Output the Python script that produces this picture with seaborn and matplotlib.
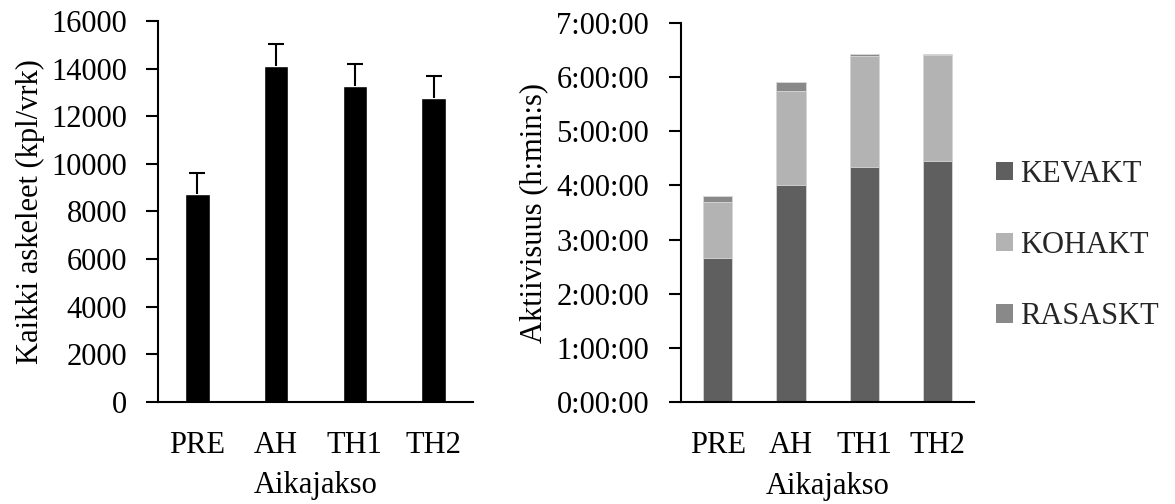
import matplotlib
matplotlib.use("Agg")
import matplotlib.pyplot as plt
from matplotlib.patches import Patch
from matplotlib.ticker import FuncFormatter, MultipleLocator
import seaborn as sns
import pandas as pd

# Measurement periods
periods = ["PRE", "AH", "TH1", "TH2"]

# Daily steps (mean) and upper error (SD)
steps_mean = [8720, 14120, 13280, 12750]
steps_err = [910, 925, 925, 940]

# Activity time per intensity class, hours
kevakt_h = [2.67, 4.01, 4.34, 4.45]
kohakt_h = [1.03, 1.73, 2.05, 1.96]
rasaskt_h = [0.105, 0.17, 0.025, 0.015]

series_names = ["KEVAKT", "KOHAKT", "RASASKT"]
series_colors = ["#5f5f5f", "#b3b3b3", "#898989"]

sns.set_theme(style="white")
plt.rcParams["font.family"] = ["Liberation Serif", "DejaVu Serif"]
FS = 22

fig = plt.figure(figsize=(11.75, 5.04), dpi=100)
ax1 = fig.add_axes([0.1345, 0.2024, 0.268, 0.756])
ax2 = fig.add_axes([0.5796, 0.2018, 0.2494, 0.753])

# --- Left: daily steps with upper error bars ---
df_steps = pd.DataFrame({"period": periods, "steps": steps_mean, "err": steps_err})
sns.barplot(data=df_steps, x="period", y="steps", color="black", width=0.31,
            saturation=1, ax=ax1)
eb = ax1.errorbar(range(len(periods)), df_steps["steps"],
                  yerr=[[0] * len(periods), df_steps["err"]],
                  fmt="none", ecolor="black", elinewidth=1.5, capsize=6, capthick=1.5)
# keep only the upper caps
eb[1][0].set_visible(False)
ax1.set_ylim(0, 16000)
ax1.set_xlim(-0.5, 3.5)
ax1.yaxis.set_major_locator(MultipleLocator(2000))
ax1.set_ylabel("Kaikki askeleet (kpl/vrk)", fontsize=FS, labelpad=5)
ax1.set_xlabel("Aikajakso", fontsize=FS, labelpad=8)

# --- Right: stacked activity time ---
df_act = pd.DataFrame({"period": periods, "KEVAKT": kevakt_h,
                       "KOHAKT": kohakt_h, "RASASKT": rasaskt_h})
df_act["cum2"] = df_act["KEVAKT"] + df_act["KOHAKT"]
df_act["cum3"] = df_act["cum2"] + df_act["RASASKT"]
for col, color in [("cum3", series_colors[2]), ("cum2", series_colors[1]),
                   ("KEVAKT", series_colors[0])]:
    sns.barplot(data=df_act, x="period", y=col, color=color, width=0.4,
                saturation=1, edgecolor="#d9d9d9", linewidth=0.6, ax=ax2)
ax2.set_ylim(0, 7)
ax2.set_xlim(-0.5, 3.5)
ax2.yaxis.set_major_locator(MultipleLocator(1))
ax2.yaxis.set_major_formatter(FuncFormatter(lambda v, p: f"{int(round(v))}:00:00"))
ax2.set_ylabel("Aktiivisuus (h:min:s)", fontsize=FS, labelpad=6)
ax2.set_xlabel("Aikajakso", fontsize=FS, labelpad=8)

for ax, ypad in ((ax1, 13), (ax2, 14)):
    for s in ("top", "right"):
        ax.spines[s].set_visible(False)
    for s in ("left", "bottom"):
        ax.spines[s].set_color("black")
        ax.spines[s].set_linewidth(1.5)
    ax.tick_params(axis="y", which="major", direction="out", length=9, width=1.5,
                   color="black", labelsize=FS, pad=ypad, left=True)
    ax.tick_params(axis="x", which="major", length=0, labelsize=FS, pad=21)
    ax.grid(False)
    for lbl in ax.get_xticklabels() + ax.get_yticklabels():
        lbl.set_color("black")
    ax.xaxis.label.set_color("black")
    ax.yaxis.label.set_color("black")

handles = [Patch(facecolor=c, edgecolor="none", label=n)
           for n, c in zip(series_names, series_colors)]
fig.legend(handles=handles, loc="center left", bbox_to_anchor=(0.8375, 0.513),
           frameon=False, fontsize=FS, handlelength=0.55, handleheight=0.55,
           handletextpad=0.22, labelspacing=1.38, borderaxespad=0)

fig.savefig("out.png", dpi=100)
